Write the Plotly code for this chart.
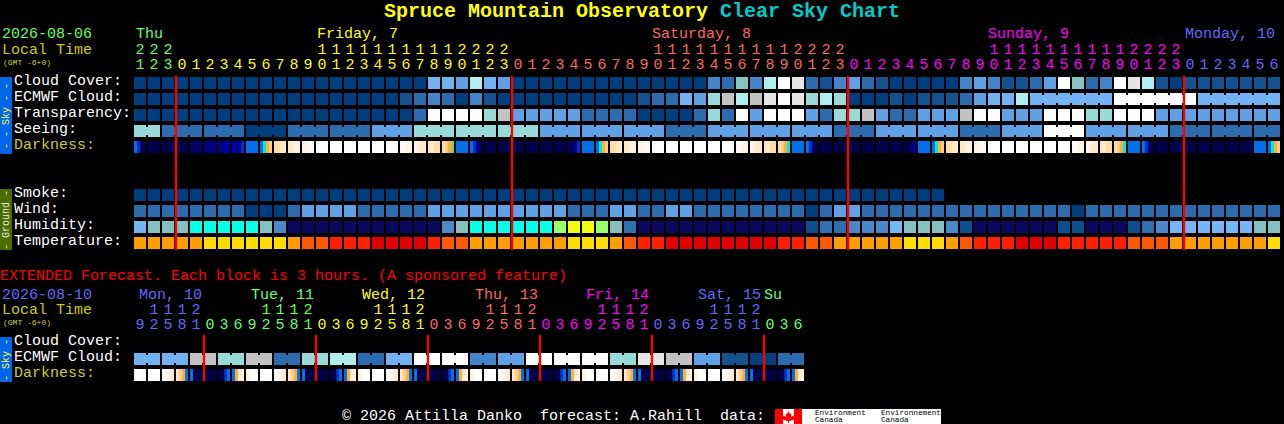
import plotly.graph_objects as go

# ---------- data ----------
main_hours = [21,22,23] + [0,1,2,3,4,5,6,7,8,9,10,11,12,13,14,15,16,17,18,19,20,21,22,23]*3 + [0,1,2,3,4,5,6]
main_day_of = [0]*3 + [1]*24 + [2]*24 + [3]*24 + [4]*7
ext_hours = [9,12,15,18,21] + [0,3,6,9,12,15,18,21]*5 + [0,3,6]
ext_day_of = [0]*5 + [1]*8 + [2]*8 + [3]*8 + [4]*8 + [5]*8 + [6]*3

main_day_colors = ["#66ff66", "#ffff00", "#ff6666", "#ff00ff", "#6666ff"]
ext_day_colors = ["#6666ff", "#66ff66", "#ffff00", "#ff6666", "#ff00ff", "#6666ff", "#66ff66"]
main_day_names = ["Thu", "Friday, 7", "Saturday, 8", "Sunday, 9", "Monday, 10"]
main_day_px = [136, 317, 652, 988, 1185]
ext_day_names = ["Mon, 10", "Tue, 11", "Wed, 12", "Thu, 13", "Fri, 14", "Sat, 15", "Su"]
ext_day_px = [139, 251, 362, 475, 586, 698, 764]

sky_palette = ["#003f7f", "#13528f", "#2c6cae", "#4484c8", "#60a0e4", "#72b2f2",
               "#86c2be", "#98dad8", "#aeeeee", "#c2c2c2", "#e6e6e6", "#ffffff"]
humidity_palette = ["#08085f", "#0c4f8f", "#2f6fb0", "#4a88c8", "#76b6f4", "#84c0c0",
                    "#08ffe8", "#98ff68", "#f0ff10"]
temp_palette = ["#e00000", "#ff2000", "#ff5a00", "#ff9e00", "#ffdc00"]
dark_palette = ["#00004a", "#000064", "#000084", "#0000a0", "#0030c0", "#0070e8",
                "#00e8e0", "#80d080", "#ffb030", "#ffcc80", "#ffdca8", "#ffe8c8",
                "#fff2e2", "#fffaf4", "#ffffff"]

cloud = [0,0,0,0,0,0,0,0,0,0,0,0,0,0,0,0,0,0,0,0,0,
         5,5,4,8,5,4,0,0,0,0,0,0,0,0,0,0,0,0,0,0,3,2,6,3,8,11,10,2,1,3,4,
         2,1,0,0,0,0,0,3,4,3,1,1,2,4,11,6,2,3,11,10,8,1,0,1,1,1,1,1,1,1]
ecmwf = [0,0,0,0,0,0,0,0,0,0,0,0,0,0,0,0,0,0,0,1,2,
         3,2,0,3,1,0,0,0,0,0,0,0,0,0,0,1,2,2,5,4,7,9,8,9,10,11,10,7,8,7,0,
         0,0,1,0,1,1,1,2,4,5,5,8,5,5,5,5,5,5,11,11,11,11,11,11,5,5,5,5,5,5]
transparency = [0,0,0,0,0,0,0,0,0,0,0,0,0,0,0,0,0,0,0,0,2,
                11,11,11,11,7,9,4,4,4,4,4,2,2,2,2,0,0,0,0,2,7,2,11,4,11,11,11,4,2,7,7,
                9,4,2,2,4,4,4,9,11,11,4,4,4,11,11,11,7,7,11,11,11,4,4,4,4,4,4,4,4,4]
seeing = [7,7,2,2,2,2,2,2,0,0,0,2,2,2,2,2,2,4,4,4,7,7,7,7,7,7,7,7,7,4,4,4,4,4,4,4,4,4,
          2,2,2,4,4,4,4,4,4,4,4,4,2,2,2,4,4,4,4,4,4,2,2,2,4,4,4,11,11,11,4,4,4,4,4,4,
          2,2,2,2,2,2,2,2]
darkness = ["5410","0000","0000","0000","1111","2222","2233","3334","5555","5689",
            "aabb","bbcc","ccdd","deee","eeee","eeee","eeee","eeee","eedd","ddcc","ccbb","bbaa",
            "a987","5555","5421","0000","0000","0000","0000","0000","0000","1124","5555","5689",
            "aabb","bbcc","ccdd","deee","eeee","eeee","eeee","eeee","eedd","ddcc","ccbb","bbaa",
            "a986","5555","5410","0000","0000","0000","0000","0000","0000","0013","5555","5689",
            "aabb","bbcc","ccdd","deee","eeee","eeee","eeee","eeee","eedd","ddcc","ccbb","bbaa",
            "a986","5555","5410","0000","0000","0000","0000","0000","0000","0001","5555","5689"]
smoke = [0]*58
wind = [2,2,2,2,2,2,2,2,0,0,0,2,4,4,4,4,2,2,2,2,2,
        4,4,4,4,4,4,4,4,4,4,2,2,2,4,4,2,2,4,4,2,2,2,2,2,2,2,2,0,2,4,4,
        2,2,2,2,2,2,2,2,2,2,2,2,2,2,2,0,2,2,2,2,2,2,2,2,2,2,2,2,2,2]
humidity = [4,5,5,5,6,6,6,6,6,5,3,0,0,0,0,0,0,0,0,0,0,
            0,3,5,6,6,6,6,6,6,7,8,8,7,5,2,0,0,0,0,0,0,0,0,0,0,0,0,1,2,2,3,
            3,3,4,5,5,5,3,1,0,0,0,0,0,0,1,1,0,0,0,1,2,3,4,4,4,4,4,4,5,5]
temperature = [3,3,3,3,3,4,4,4,4,4,4,3,2,2,1,1,1,0,0,0,0,
               1,2,2,3,3,3,3,3,3,3,4,4,4,3,2,1,1,0,0,0,0,0,0,0,0,1,1,2,2,3,3,
               3,3,3,4,4,4,3,2,1,1,1,0,0,0,1,1,1,1,1,2,2,2,3,3,3,3,3,3,3,4]
ext_ecmwf = [5,5,5,5,9,9,7,7,9,9,2,2,7,7,8,8,2,2,5,5,11,11,11,11,
             3,3,4,4,11,11,11,11,11,11,7,7,10,10,9,9,4,4,1,1,0,0,2,2]
ext_darkness = ["eedd","eeee","edcb","b985","5000","0000","0045","58bc",
                "cdee","eeee","edcb","b985","5000","0000","0045","58bc",
                "cdee","eeee","edcb","b985","5000","0000","0045","58bc",
                "cdee","eeee","edcb","b985","5000","0000","0045","58bc",
                "cdee","eeee","edcb","b985","5000","0000","0045","58bc",
                "cdee","eeee","edcb","b985","5000","0000","0045","58bc"]
main_midnights = [3, 27, 51, 75]
ext_midnights = [5, 13, 21, 29, 37, 45]

row_labels = [("Cloud Cover:", 0, "#ffffff"), ("ECMWF Cloud:", 1, "#ffffff"), ("Transparency:", 2, "#ffffff"),
              ("Seeing:", 3, "#ffffff"), ("Darkness:", 4, "#cccc33"), ("Smoke:", 7, "#ffffff"),
              ("Wind:", 8, "#ffffff"), ("Humidity:", 9, "#ffffff"), ("Temperature:", 10, "#ffffff"),
              ("Cloud Cover:", 16.25, "#ffffff"), ("ECMWF Cloud:", 17.25, "#ffffff"), ("Darkness:", 18.25, "#cccc33")]

# ---------- geometry: one column = 14 px, one row = 16 px ----------
W, H = 1284, 424
X0, Y0, DX, DY = 140, 83, 14, 16
CELL_W, CELL_H = 12/DX, 12/DY
FONT = "Liberation Mono"
fig = go.Figure()


def cells(values, row, palette):
    xs = list(range(len(values)))
    fig.add_trace(go.Bar(x=xs, y=[CELL_H]*len(xs), base=[row-CELL_H/2]*len(xs), width=CELL_W,
                         marker=dict(color=[palette[v] for v in values], line_width=0), hoverinfo="skip"))


def connectors(values, row, palette, linked):
    xs = [i for i in range(len(values)-1) if linked(i) and values[i] == values[i+1]]
    h = 8/DY
    fig.add_trace(go.Bar(x=[i+0.5 for i in xs], y=[h]*len(xs), base=[row-h/2]*len(xs), width=3/DX,
                         marker=dict(color=[palette[values[i]] for i in xs], line_width=0), hoverinfo="skip"))


def gradient(samples, row):
    xs, cols = [], []
    for i, s in enumerate(samples):
        for k, c in enumerate(s):
            xs.append(i - 6/DX + (k+0.5)*3/DX)
            cols.append(dark_palette[int(c, 16)])
    fig.add_trace(go.Bar(x=xs, y=[CELL_H]*len(xs), base=[row-CELL_H/2]*len(xs), width=3/DX,
                         marker=dict(color=cols, line_width=0), hoverinfo="skip"))


for vals, row in [(cloud, 0), (ecmwf, 1), (transparency, 2), (seeing, 3), (smoke, 7), (wind, 8), (ext_ecmwf, 17.25)]:
    cells(vals, row, sky_palette)
connectors(seeing, 3, sky_palette, lambda i: (i+1) % 3 != 2)
connectors(ecmwf, 1, sky_palette, lambda i: i >= 64)
connectors(ext_ecmwf, 17.25, sky_palette, lambda i: i % 2 == 0)
cells(humidity, 9, humidity_palette)
cells(temperature, 10, temp_palette)
gradient(darkness, 4)
gradient(ext_darkness, 18.25)


def midnight_lines(cols, top_row, bottom_row):
    xs = [m - 6/DX for m in cols]
    fig.add_trace(go.Bar(x=xs, y=[bottom_row-top_row]*len(xs), base=[top_row]*len(xs), width=2.4/DX,
                         marker=dict(color="#ff0000", line_width=0), hoverinfo="skip"))


midnight_lines(main_midnights, -0.4375, 10.4375)
midnight_lines(ext_midnights, 15.75, 18.625)


def digits(hours, day_of, colors, ones_y, tens_y):
    xs, ys, txt, col = [], [], [], []
    for i, h in enumerate(hours):
        c = colors[day_of[i]]
        xs.append(i); ys.append(ones_y); txt.append(str(h % 10)); col.append(c)
        if h >= 10:
            xs.append(i); ys.append(tens_y); txt.append(str(h // 10)); col.append(c)
    fig.add_trace(go.Scatter(x=xs, y=ys, text=txt, mode="text", textposition="middle center",
                             textfont=dict(family=FONT, size=15, color=col), hoverinfo="skip"))


digits(main_hours, main_day_of, main_day_colors, (65-Y0)/DY, (50-Y0)/DY)
digits(ext_hours, ext_day_of, ext_day_colors, (325-Y0)/DY, (310-Y0)/DY)

ann = []
def px_text(x, y, text, color, size=15, bold=False, anchor="left", angle=0, family=FONT):
    if bold:
        text = "<b>" + text + "</b>"
    ann.append(dict(x=x/W, y=1-y/H, xref="paper", yref="paper", text=text, showarrow=False,
                    xanchor=anchor, yanchor="middle", textangle=angle, borderpad=0, borderwidth=0,
                    font=dict(family=family, size=size, color=color), align="left"))


px_text(384, 12, "Spruce Mountain Observatory", "#ffff00", 20, True)
px_text(720, 12, "Clear Sky Chart", "#00cccc", 20, True)
px_text(2, 35, "2026-08-06", "#66ff66")
px_text(2, 50, "Local Time", "#cccc00")
px_text(3, 62, "(GMT -6+0)", "#cccc33", 8)
for name, p, c in zip(main_day_names, main_day_px, main_day_colors):
    px_text(p, 35, name, c)
for label, row, c in row_labels:
    px_text(14, Y0+row*DY-1.5, label, c)
px_text(0, 276, "EXTENDED Forecast. Each block is 3 hours. (A sponsored feature)", "#ff0000")
px_text(2, 295, "2026-08-10", "#6666ff")
px_text(2, 310, "Local Time", "#cccc00")
px_text(3, 322, "(GMT -6+0)", "#cccc33", 8)
for name, p, c in zip(ext_day_names, ext_day_px, ext_day_colors):
    px_text(p, 295, name, c)
px_text(342, 416, "\u00a9 2026 Attilla Danko&nbsp;&nbsp;forecast: A.Rahill&nbsp;&nbsp;data:", "#ffffff")
px_text(6, 116, "- - Sky - -", "#ffff33", 10, anchor="center", angle=-90)
px_text(6, 220, "- Ground -", "#e8e8e8", 10, anchor="center", angle=-90)
px_text(6, 360, "- Sky -", "#ffff33", 10, anchor="center", angle=-90)
px_text(815, 413, "Environment", "#000000", 7.7)
px_text(815, 420, "Canada", "#000000", 7.7)
px_text(881, 413, "Environnement", "#000000", 7.7)
px_text(881, 420, "Canada", "#000000", 7.7)


def rect(x0, y0, x1, y1, color, layer="below"):
    return dict(type="rect", xref="paper", yref="paper", x0=x0/W, x1=x1/W, y0=1-y0/H, y1=1-y1/H,
                fillcolor=color, line_width=0, layer=layer)


leaf = [(788.5,411),(790,414),(791.5,413.5),(791,417),(793.5,415.5),(794,417),(795,417),(794,419.5),
        (790,421),(789,421),(789,423),(788,423),(788,421),(787,421),(783,419.5),(782,417),(783,417),
        (783.5,415.5),(786,417),(785.5,413.5),(787,414)]
leaf_path = "M " + " L ".join(f"{x/W:.5f},{1-y/H:.5f}" for x, y in leaf) + " Z"
shapes = [rect(0,77,12,154,"#0066e8"), rect(0,189,12,250,"#4f6c00"), rect(0,337,12,382,"#0066e8"),
          rect(775,409,941,424,"#ffffff"), rect(775,409,783,424,"#ff0000"), rect(794,409,802,424,"#ff0000"),
          dict(type="path", xref="paper", yref="paper", path=leaf_path, fillcolor="#ff0000", line_width=0, layer="below")]

fig.update_layout(width=W, height=H, autosize=False, margin=dict(l=0, r=0, t=0, b=0, pad=0),
                  paper_bgcolor="#000000", plot_bgcolor="rgba(0,0,0,0)", showlegend=False, barmode="overlay",
                  annotations=ann, shapes=shapes,
                  xaxis=dict(range=[-X0/DX, (W-X0)/DX], visible=False, fixedrange=True),
                  yaxis=dict(range=[(H-Y0)/DY, -Y0/DY], visible=False, fixedrange=True))
fig.write_html("out.html", config={"displayModeBar": False},
               post_script="document.body.style.margin='0';document.body.style.background='#000';")
